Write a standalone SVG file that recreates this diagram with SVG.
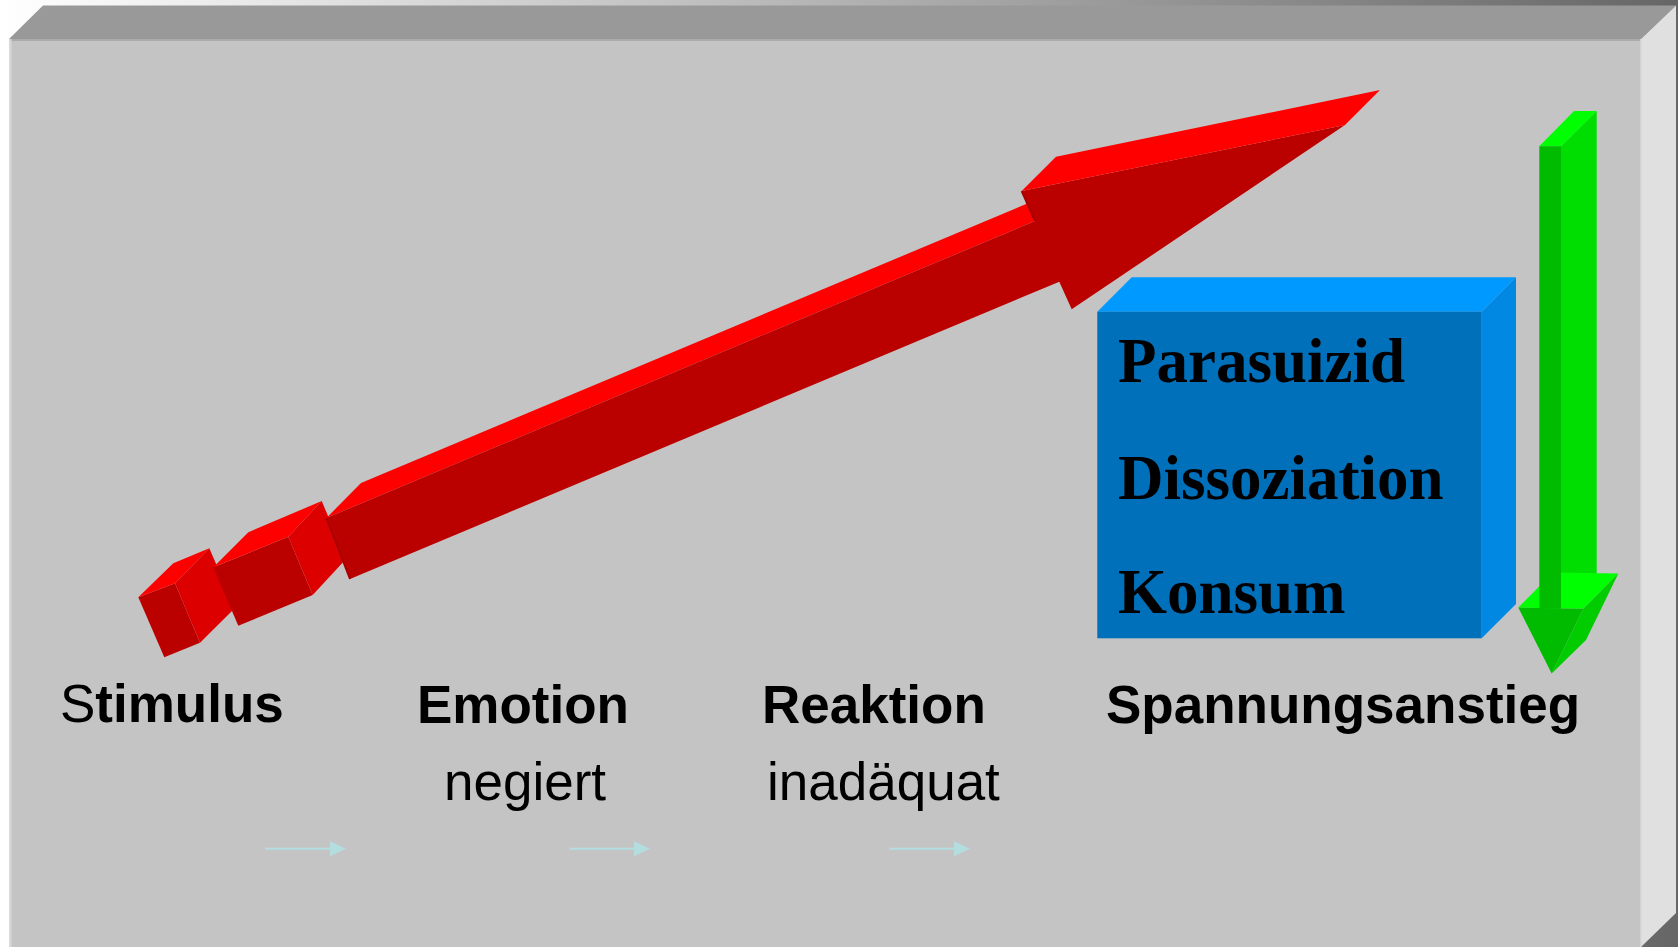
<svg xmlns="http://www.w3.org/2000/svg" width="1678" height="947" viewBox="0 0 1678 947">
  <defs>
    <linearGradient id="bg" x1="0" y1="0" x2="1" y2="0">
      <stop offset="0" stop-color="#ffffff"/>
      <stop offset="1" stop-color="#666666"/>
    </linearGradient>
    <marker id="ah" viewBox="0 0 16 15" refX="0" refY="7.5" markerWidth="16" markerHeight="15" markerUnits="userSpaceOnUse" orient="auto">
      <polygon points="0,0 16,7.5 0,15" fill="#b4dde0"/>
    </marker>
  </defs>
  <style>
    .lbl { font-family: "Liberation Sans", Arial, sans-serif; font-size: 53px; fill: #000; }
    .b { font-weight: bold; }
    .box { font-family: "Liberation Serif", "Times New Roman", serif; font-size: 63px; font-weight: bold; fill: #000; }
    .rt { fill: #ff0000; }
    .rf { fill: #bb0000; }
    .rs { fill: #dd0000; }
    .gt { fill: #00ff00; }
    .gf { fill: #00bb00; }
    .gs { fill: #00dd00; }
    .conn { stroke: #b4dde0; stroke-width: 2; fill: none; }
  </style>

  <!-- background -->
  <rect x="0" y="0" width="1678" height="947" fill="url(#bg)"/>

  <!-- frame -->
  <g id="frame">
    <rect x="9" y="39" width="1632" height="908" fill="#c4c4c4"/>
    <polygon points="9,39 43,5.5 1676,5.5 1641,39" fill="#999999"/>
    <polygon points="1641,39 1676,5.5 1676,913 1641,947" fill="#e0e0e0"/>
    <rect x="9" y="39" width="1632" height="2" fill="#ababab"/>
    <rect x="9" y="39" width="2.5" height="908" fill="#d8d8d8"/>
    <rect x="1640" y="39" width="1.5" height="908" fill="#d4d4d4"/>
  </g>

  <!-- red arrow -->
  <g id="red-arrow">
    <g id="cube-small">
      <polygon class="rf" points="138.3,597.3 175,583.3 200,642.7 164.3,657.3"/>
      <polygon class="rt" points="138.3,597.3 173.3,563.3 209.3,548.3 175,583.3"/>
      <polygon class="rs" points="175,583.3 209.3,548.3 235,608 200,642.7"/>
    </g>
    <g id="cube-medium">
      <polygon class="rf" points="213.3,567.3 288.3,536.7 312.7,595 238.3,625.7"/>
      <polygon class="rt" points="213.3,567.3 248.3,532.3 321.7,501 288.3,536.7"/>
      <polygon class="rs" points="288.3,536.7 321.7,501 346,559 312.7,595"/>
    </g>
    <g id="shaft">
      <polygon class="rt" points="326.4,518 361,483 1062,189 1035,221"/>
      <polygon class="rf" points="326.4,518 1035,221 1021.7,191 1345,125 1071.7,309.3 1059.3,281.7 350,579"/>
      <polygon class="rt" points="1021.7,191 1056,156.7 1380,90 1345,125"/>
      <line x1="326.4" y1="518" x2="350" y2="579" stroke="#a80000" stroke-width="2"/>
      <line x1="1021.7" y1="191" x2="1035" y2="221" stroke="#a80000" stroke-width="2"/>
    </g>
  </g>

  <!-- blue box -->
  <g id="box">
    <polygon points="1097.3,311.7 1131.7,277.3 1516,277.3 1481.7,311.7" fill="#0099ff"/>
    <polygon points="1481.7,311.7 1516,277.3 1516,604 1481.7,638.3" fill="#0088e2"/>
    <rect x="1097.3" y="311.7" width="384.4" height="326.6" fill="#0070bb"/>
    <text class="box" x="1118" y="382">Parasuizid</text>
    <text class="box" x="1118" y="498.5">Dissoziation</text>
    <text class="box" x="1118" y="613">Konsum</text>
  </g>

  <!-- green arrow -->
  <g id="green-arrow">
    <polygon class="gs" points="1561,146.2 1596.7,111.1 1596.7,573.5 1561,608.7"/>
    <polygon class="gt" points="1539.3,146.2 1574,111.1 1596.7,111.1 1561,146.2"/>
    <polygon class="gt" points="1518.3,607.6 1553,572.6 1618.3,573.5 1583.3,608.7"/>
    <rect x="1539.3" y="146.2" width="21.7" height="462.5" class="gf"/>
    <polygon class="gf" points="1518.3,607.6 1583.3,608.7 1551.7,673.4"/>
    <polygon fill="#00cc00" points="1583.3,608.7 1618.3,573.5 1586,640.1 1551.7,673.4"/>
  </g>

  <!-- labels -->
  <g id="label-stimulus">
    <text class="lbl" x="60" y="722"><tspan>S</tspan><tspan class="b">timulus</tspan></text>
  </g>
  <g id="label-emotion">
    <text class="lbl b" x="417" y="723">Emotion</text>
    <text class="lbl" x="444" y="800">negiert</text>
  </g>
  <g id="label-reaktion">
    <text class="lbl b" x="762" y="723">Reaktion</text>
    <text class="lbl" x="767" y="800">inadäquat</text>
  </g>
  <g id="label-spannung">
    <text class="lbl b" x="1106" y="723">Spannungsanstieg</text>
  </g>

  <!-- connectors -->
  <g id="connectors">
    <line class="conn" x1="265" y1="848.7" x2="330" y2="848.7" marker-end="url(#ah)"/>
    <line class="conn" x1="569.6" y1="848.7" x2="634" y2="848.7" marker-end="url(#ah)"/>
    <line class="conn" x1="889.5" y1="848.7" x2="954" y2="848.7" marker-end="url(#ah)"/>
  </g>
</svg>
